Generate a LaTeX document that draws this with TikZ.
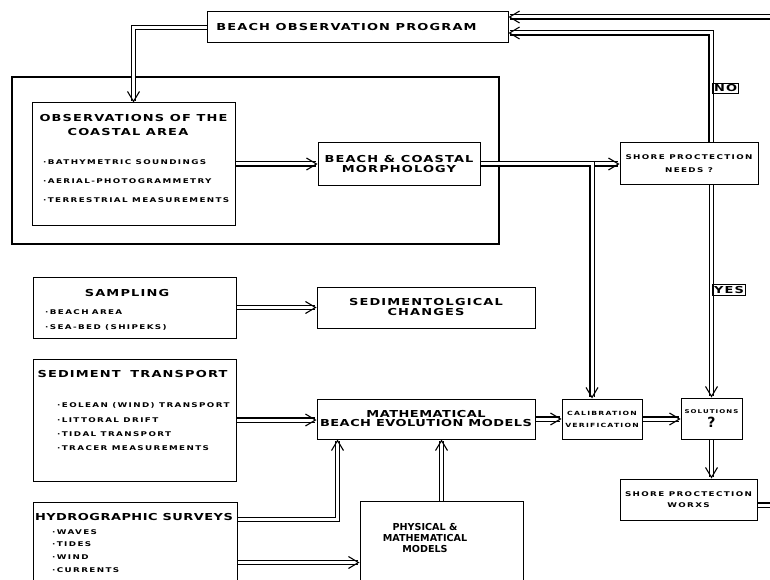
\documentclass[tikz,border=0pt]{standalone}
\usepackage{fontspec}
\setmainfont{DejaVu Sans}
\newfontfamily\bigfnt{DejaVu Sans Bold}[FakeStretch=1.35,LetterSpace=12]
\newfontfamily\tightfnt{DejaVu Sans Bold}[FakeStretch=1.35,LetterSpace=5]
\newfontfamily\smlfnt{DejaVu Sans Bold}[FakeStretch=1.35,LetterSpace=21]
\newfontfamily\plainfnt{DejaVu Sans Bold}
\usetikzlibrary{arrows.meta,calc,backgrounds}
\newcommand\txtbig{\bigfnt\fontsize{9.6}{11}\selectfont}
\newcommand\txttight{\tightfnt\fontsize{9.6}{11}\selectfont}
\newcommand\txtplain{\plainfnt\fontsize{9.6}{11}\selectfont}
\newcommand\txtsml{\smlfnt\fontsize{6.5}{8}\selectfont}
\newcommand\txttiny{\smlfnt\fontsize{5.7}{7}\selectfont}
\begin{document}
\begin{tikzpicture}[x=1pt,y=-1pt,
  box/.style={draw, line width=1pt, inner sep=0pt, align=center},
  outerbox/.style={draw, line width=1.7pt},
  conn/.style={double, double distance=3pt, line width=1.1pt, -{Straight Barb[length=10pt,width=12pt]}},
  dbl/.style={double, double distance=3pt, line width=1.1pt},
  lbl/.style={inner sep=0pt},
  tag/.style={draw, line width=1pt, inner sep=1.6pt, font=\txtbig}]
\useasboundingbox (0,0) rectangle (770,580);

% boxes
\node[box, minimum width=301pt, minimum height=31pt] (bop) at (357.5,27.5) {\txtbig BEACH OBSERVATION PROGRAM\hspace*{22pt}};
\node[box, minimum width=203pt, minimum height=122pt] (obs) at (133.5,164) {};
\node[box, minimum width=162pt, minimum height=42pt] (bc) at (399,164) {\txtbig BEACH \& COASTAL\\[-2pt]\txtbig MORPHOLOGY};
\node[box, minimum width=138pt, minimum height=41pt] (spn) at (689,163.5) {\txtsml SHORE PROCTECTION\\[1pt]\txtsml NEEDS ?};
\node[box, minimum width=203pt, minimum height=61pt] (samp) at (134.5,307.5) {};
\node[box, minimum width=218pt, minimum height=41pt] (sedch) at (426,307.5) {\txtbig SEDIMENTOLGICAL\\[-2pt]\txtbig CHANGES};
\node[box, minimum width=203pt, minimum height=122pt] (sedtr) at (134.5,420) {};
\node[box, minimum width=218pt, minimum height=40pt] (mbem) at (426,419) {\txttight MATHEMATICAL\\[-3pt]\txttight BEACH EVOLUTION MODELS};
\node[box, minimum width=80pt, minimum height=40pt] (calib) at (602,419) {\txttiny CALIBRATION\\[0pt]\txttiny VERIFICATION};
\node[box, minimum width=61pt, minimum height=41pt] (sol) at (711.5,418.5) {{\smlfnt\fontsize{5.2}{7}\selectfont SOLUTIONS}\\[2pt]{\plainfnt\fontsize{14}{14}\selectfont ?}};
\node[box, minimum width=204pt, minimum height=98pt] (hydro) at (135,551) {};
\node[box, minimum width=163pt, minimum height=99pt] (phys) at (441.5,550.5) {};
\node[box, minimum width=137pt, minimum height=41pt] (worxs) at (688.5,499.5) {\txtsml SHORE PROCTECTION\\[-1pt]\txtsml WORXS};

% texts inside composite boxes
\node[lbl] (obs1) at (133.5,118) {\txtbig OBSERVATIONS OF THE};
\node[lbl] (obs2) at (128,132) {\txtbig COASTAL AREA};
\node[lbl, anchor=west] (obs3) at (43,162) {\txtsml ·BATHYMETRIC SOUNDINGS};
\node[lbl, anchor=west] (obs4) at (43,181) {\txtsml ·AERIAL-PHOTOGRAMMETRY};
\node[lbl, anchor=west] (obs5) at (43,200) {\txtsml ·TERRESTRIAL MEASUREMENTS};

\node[lbl] (samp1) at (127,293) {\txtbig SAMPLING};
\node[lbl, anchor=west] (samp2) at (45,312) {\txtsml ·BEACH\enspace AREA};
\node[lbl, anchor=west] (samp3) at (45,327) {\txtsml ·SEA-BED (SHIPEKS)};

\node[lbl] (sed1) at (132.5,374) {\txtbig SEDIMENT\quad TRANSPORT};
\node[lbl, anchor=west] (sed2) at (57,405) {\txtsml ·EOLEAN (WIND) TRANSPORT};
\node[lbl, anchor=west] (sed3) at (57,420) {\txtsml ·LITTORAL DRIFT};
\node[lbl, anchor=west] (sed4) at (57,434) {\txtsml ·TIDAL TRANSPORT};
\node[lbl, anchor=west] (sed5) at (57,448) {\txtsml ·TRACER MEASUREMENTS};

\node[lbl] (hyd1) at (134,517) {\txttight HYDROGRAPHIC SURVEYS};
\node[lbl, anchor=west] (hyd2) at (52,532) {\txtsml ·WAVES};
\node[lbl, anchor=west] (hyd3) at (52,544) {\txtsml ·TIDES};
\node[lbl, anchor=west] (hyd4) at (52,557) {\txtsml ·WIND};
\node[lbl, anchor=west] (hyd5) at (52,570) {\txtsml ·CURRENTS};

\node[lbl, align=center] (phys1) at (425,538) {\txtplain PHYSICAL \&\\[-1pt]\txtplain MATHEMATICAL\\[-1pt]\txtplain MODELS};

\node[tag, anchor=west] (no) at (712,88.5) {NO};
\node[tag, anchor=west] (yes) at (712,290) {YES};

\coordinate (tr) at (772,17);
\coordinate (wr) at (772,505);
\coordinate (h1) at ($(hydro.north east)+(0,18)$);
\coordinate (h2) at ($(hydro.north east)+(0,61)$);

\begin{pgfonlayer}{background}
\fill[white] (0,0) rectangle (770,580);
\draw[outerbox] (12,77) rectangle (499,244);
\draw[conn] (bop.west) -| (obs.north);
\draw[conn] (obs.east) -- (bc.west);
\draw[conn] (bc.east) -- (bc.east -| spn.west);
\draw[conn] (bc.east) -| ($(calib.north)+(-10,0)$);
\draw[conn] ($(spn.north)+(22,0)$) |- ($(bop.east)+(0,5.5)$);
\draw[conn] (tr) -- (tr -| bop.east);
\draw[conn] (spn.south -| sol.north) -- (sol.north);
\draw[conn] (calib.east) -- (calib.east -| sol.west);
\draw[conn] (mbem.east) -- (calib.west);
\draw[conn] (samp.east) -- (samp.east -| sedch.west);
\draw[conn] (sedtr.east) -- (sedtr.east -| mbem.west);
\draw[conn] (h1) -| ($(mbem.south west)+(21,0)$);
\draw[conn] (h2) -- (h2 -| phys.west);
\draw[conn] (phys.north) -- (phys.north |- mbem.south);
\draw[conn] (sol.south) -- (sol.south |- worxs.north);
\draw[dbl] (worxs.east |- wr) -- (wr);
\end{pgfonlayer}
\end{tikzpicture}
\end{document}
